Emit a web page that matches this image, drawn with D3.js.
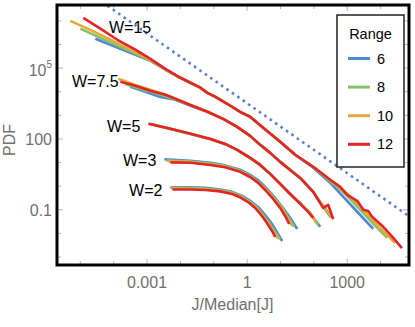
<!DOCTYPE html>
<html>
<head>
<meta charset="utf-8">
<script src="https://cdn.jsdelivr.net/npm/d3@7"></script>
<style>
  body { margin: 0; background: #fff; }
  svg { display: block; }
  text { font-family: "Liberation Sans", Arial, sans-serif; }
</style>
</head>
<body>
<div class="chart"></div>
<script>
// all curve points are [log10(J/Median[J]), log10(PDF)]
var ranges = ['6', '8', '10', '12'];
var wLabels = ['W=15', 'W=7.5', 'W=5', 'W=3', 'W=2'];
// where each W label sits, same log10 units
var wLabelAt = [[-4.14, 6.49], [-5.25, 4.20], [-4.20, 2.31], [-3.72, 0.835], [-3.54, -0.435]];

// each family: [range 6, range 8, range 10, range 12]
var w15 = [
  [[-4.55, 6.24], [-4.10, 5.99], [-3.50, 5.65], [-2.90, 5.31], [-2.45, 4.93], [-2.00, 4.59], [-1.70, 4.38], [-1.40, 4.17], [-1.19, 3.95], [-0.95, 3.78], [-0.60, 3.49], [-0.21, 3.15], [0.09, 2.94], [0.48, 2.47], [0.99, 1.88], [1.44, 1.33], [1.98, 0.78], [2.49, 0.14], [2.94, -0.54], [3.39, -1.22], [3.78, -1.81]],
  [[-5.00, 6.67], [-4.40, 6.28], [-3.80, 5.90], [-3.20, 5.52], [-2.75, 5.22], [-2.45, 4.94], [-2.00, 4.59], [-1.70, 4.38], [-1.40, 4.16], [-1.19, 3.95], [-0.95, 3.78], [-0.60, 3.49], [-0.21, 3.15], [0.09, 2.93], [0.48, 2.47], [0.99, 1.88], [1.44, 1.33], [1.98, 0.81], [2.49, 0.22], [2.94, -0.33], [3.39, -1.00], [3.84, -1.68], [4.20, -2.19]],
  [[-5.30, 7.00], [-4.70, 6.62], [-4.10, 6.20], [-3.50, 5.78], [-2.90, 5.35], [-2.45, 4.95], [-2.00, 4.59], [-1.70, 4.38], [-1.40, 4.17], [-1.19, 3.95], [-0.95, 3.78], [-0.60, 3.49], [-0.21, 3.15], [0.09, 2.94], [0.48, 2.47], [0.99, 1.88], [1.44, 1.33], [1.98, 0.82], [2.49, 0.27], [2.94, -0.24], [3.39, -0.83], [3.84, -1.55], [4.43, -2.40]],
  [[-4.91, 7.13], [-4.40, 6.67], [-3.89, 6.20], [-3.35, 5.78], [-2.90, 5.39], [-2.45, 4.97], [-2.00, 4.59], [-1.70, 4.38], [-1.40, 4.17], [-1.19, 3.95], [-0.95, 3.78], [-0.60, 3.49], [-0.21, 3.15], [0.09, 2.94], [0.48, 2.47], [0.99, 1.88], [1.44, 1.33], [1.98, 0.82], [2.49, 0.27], [2.79, -0.03], [3.00, -0.37], [3.30, -0.62], [3.48, -1.00], [3.63, -1.05], [3.75, -1.30], [4.08, -1.72], [4.38, -2.19], [4.64, -2.62]]
];

var w75 = [
  [[-3.50, 4.21], [-3.05, 4.00], [-2.60, 3.78], [-2.15, 3.66], [-1.70, 3.40], [-1.19, 3.15], [-0.72, 2.85], [-0.30, 2.51], [0.09, 2.13], [0.39, 1.75], [0.69, 1.41], [0.99, 1.03], [1.29, 0.69], [1.59, 0.35], [1.98, -0.24], [2.13, -0.58], [2.31, -0.92], [2.52, -1.34]],
  [[-3.65, 4.33], [-3.20, 4.12], [-2.75, 3.95], [-2.30, 3.74], [-1.70, 3.44], [-1.19, 3.15], [-0.72, 2.85], [-0.30, 2.51], [0.09, 2.13], [0.39, 1.75], [0.69, 1.41], [0.99, 1.03], [1.29, 0.69], [1.59, 0.35], [1.98, -0.24], [2.16, -0.62], [2.37, -1.00], [2.55, -1.34]],
  [[-3.86, 4.55], [-3.35, 4.29], [-2.90, 4.08], [-2.45, 3.87], [-1.70, 3.44], [-1.19, 3.15], [-0.72, 2.85], [-0.30, 2.51], [0.09, 2.13], [0.39, 1.75], [0.69, 1.41], [0.99, 1.03], [1.29, 0.69], [1.59, 0.35], [1.98, -0.24], [2.19, -0.67], [2.40, -1.05], [2.58, -1.39]],
  [[-3.80, 4.42], [-3.35, 4.25], [-2.90, 4.04], [-2.45, 3.87], [-2.15, 3.70], [-1.70, 3.44], [-1.19, 3.15], [-0.72, 2.85], [-0.30, 2.51], [0.09, 2.13], [0.39, 1.75], [0.69, 1.41], [0.99, 1.03], [1.29, 0.69], [1.59, 0.35], [1.98, -0.24], [2.13, -0.58], [2.28, -0.92], [2.43, -0.79], [2.58, -1.39]]
];

var w5 = [
  [[-2.87, 2.62], [-2.30, 2.43], [-1.70, 2.22], [-1.10, 2.00], [-0.66, 1.79], [-0.30, 1.54], [0.09, 1.20], [0.39, 0.90], [0.69, 0.52], [0.99, 0.10], [1.29, -0.33], [1.59, -0.71], [1.89, -1.17], [2.04, -1.43], [2.19, -1.72]],
  [[-2.90, 2.64], [-2.30, 2.42], [-1.70, 2.21], [-1.10, 1.99], [-0.66, 1.78], [-0.30, 1.54], [0.09, 1.20], [0.39, 0.90], [0.69, 0.52], [0.99, 0.10], [1.29, -0.33], [1.59, -0.73], [1.89, -1.13], [2.13, -1.64]],
  [[-2.93, 2.64], [-2.30, 2.43], [-1.70, 2.22], [-1.10, 2.00], [-0.66, 1.79], [-0.30, 1.54], [0.09, 1.20], [0.39, 0.90], [0.69, 0.52], [0.99, 0.10], [1.29, -0.33], [1.59, -0.74], [1.89, -1.13], [2.07, -1.55]],
  [[-2.96, 2.64], [-2.30, 2.43], [-1.70, 2.22], [-1.10, 2.00], [-0.66, 1.79], [-0.30, 1.54], [0.09, 1.20], [0.39, 0.90], [0.69, 0.52], [0.99, 0.10], [1.29, -0.33], [1.59, -0.75], [1.83, -1.09], [1.98, -1.34]]
];

var w3 = [
  [[-2.48, 1.14], [-1.70, 1.07], [-1.10, 0.99], [-0.66, 0.88], [-0.21, 0.70], [0.09, 0.48], [0.33, 0.25], [0.57, -0.07], [0.81, -0.45], [1.05, -0.88], [1.29, -1.34], [1.50, -1.81]],
  [[-2.42, 1.09], [-1.70, 1.04], [-1.10, 0.96], [-0.66, 0.85], [-0.21, 0.65], [0.09, 0.44], [0.33, 0.18], [0.57, -0.12], [0.81, -0.50], [1.05, -0.92], [1.26, -1.39], [1.41, -1.72]],
  [[-2.36, 1.05], [-1.70, 1.02], [-1.10, 0.93], [-0.66, 0.82], [-0.21, 0.63], [0.09, 0.41], [0.33, 0.16], [0.57, -0.14], [0.81, -0.54], [1.05, -0.97], [1.23, -1.39], [1.35, -1.68]],
  [[-2.30, 1.01], [-1.70, 0.99], [-1.10, 0.90], [-0.66, 0.80], [-0.21, 0.61], [0.09, 0.39], [0.33, 0.14], [0.54, -0.16], [0.78, -0.54], [0.99, -0.92], [1.14, -1.26], [1.26, -1.60]]
];

var w2 = [
  [[-2.30, -0.05], [-1.70, -0.05], [-1.25, -0.07], [-0.81, -0.14], [-0.45, -0.24], [-0.15, -0.41], [0.09, -0.62], [0.33, -0.88], [0.54, -1.22], [0.72, -1.55], [0.87, -1.89], [0.96, -2.11], [1.05, -2.32]],
  [[-2.27, -0.07], [-1.70, -0.08], [-1.25, -0.10], [-0.81, -0.17], [-0.45, -0.27], [-0.18, -0.43], [0.06, -0.64], [0.30, -0.90], [0.48, -1.22], [0.66, -1.55], [0.81, -1.89], [0.90, -2.08], [0.99, -2.25]],
  [[-2.27, -0.10], [-1.70, -0.11], [-1.25, -0.13], [-0.81, -0.19], [-0.45, -0.30], [-0.21, -0.45], [0.03, -0.65], [0.27, -0.91], [0.45, -1.22], [0.63, -1.53], [0.75, -1.85], [0.84, -2.04], [0.93, -2.21]],
  [[-2.24, -0.14], [-1.70, -0.14], [-1.25, -0.16], [-0.81, -0.22], [-0.45, -0.33], [-0.21, -0.47], [0.03, -0.67], [0.24, -0.92], [0.42, -1.22], [0.57, -1.51], [0.69, -1.77], [0.78, -1.98], [0.84, -2.15]]
];

// dotted power-law guide, two end points
var guide = [[-5.0, 8.44], [5.0, -1.42]];

var xTickValues = [1e-3, 1, 1e3];
var xTickText = ['0.001', '1', '1000'];
var yTickValues = [1e-1, 1e2, 1e5];

var colors = ['#4f88d2', '#88c068', '#e3aa3a', '#e02626'];

var margin = { top: 5, right: 6, bottom: 62, left: 57 };
var width = 415 - margin.left - margin.right;
var height = 327 - margin.top - margin.bottom;
var gray = '#707070';

var svg = d3.select('.chart')
  .append('svg')
  .attr('width', 415)
  .attr('height', 327);

var g = svg.append('g')
  .attr('transform', `translate(${margin.left}, ${margin.top})`);

var x = d3.scaleLog().domain([2.0e-6, 7.1e4]).range([0, width]);
var y = d3.scaleLog().domain([4.6e-4, 4.7e7]).range([height, 0]);

g.append('clipPath')
  .attr('id', 'plotclip')
  .append('rect')
  .attr('width', width)
  .attr('height', height);

var line = d3.line()
  .x(d => x(Math.pow(10, d[0])))
  .y(d => y(Math.pow(10, d[1])));

// ticks every decade, pointing inward, on all four sides
var xDecades = d3.range(-5, 5).map(e => Math.pow(10, e));
var yDecades = d3.range(-3, 8).map(e => Math.pow(10, e));
var ticks = g.append('g').style('stroke', '#b4b4b4').style('stroke-width', 1);

xDecades.forEach(v => {
  var len = xTickValues.some(t => Math.abs(Math.log10(t) - Math.log10(v)) < 1e-6) ? 6 : 4;
  ticks.append('line').attr('x1', x(v)).attr('x2', x(v)).attr('y1', height).attr('y2', height - len);
  ticks.append('line').attr('x1', x(v)).attr('x2', x(v)).attr('y1', 0).attr('y2', len);
});
yDecades.forEach(v => {
  var len = yTickValues.some(t => Math.abs(Math.log10(t) - Math.log10(v)) < 1e-6) ? 6 : 4;
  ticks.append('line').attr('y1', y(v)).attr('y2', y(v)).attr('x1', 0).attr('x2', len);
  ticks.append('line').attr('y1', y(v)).attr('y2', y(v)).attr('x1', width).attr('x2', width - len);
});

var plot = g.append('g').attr('clip-path', 'url(#plotclip)');

// dotted guide line
plot.append('path')
  .attr('d', line(guide))
  .style('fill', 'none')
  .style('stroke', '#5b80c4')
  .style('stroke-width', 2.6)
  .style('stroke-dasharray', '2.6,4');

// curves, range 6 first so that red ends on top
var families = [w15, w75, w5, w3, w2];
ranges.forEach((r, i) => {
  plot.selectAll('.curve' + r)
    .data(families.map(f => f[i]))
    .enter()
    .append('path')
    .attr('class', 'curve' + r)
    .attr('d', d => line(d))
    .style('fill', 'none')
    .style('stroke', colors[i])
    .style('stroke-width', 2.6)
    .style('stroke-linejoin', 'round');
});

// W labels
g.selectAll('.wlabel')
  .data(wLabels)
  .enter()
  .append('text')
  .attr('class', 'wlabel')
  .attr('x', (d, i) => x(Math.pow(10, wLabelAt[i][0])))
  .attr('y', (d, i) => y(Math.pow(10, wLabelAt[i][1])))
  .style('font-size', '16px')
  .style('fill', '#000')
  .text(d => d);

// frame
g.append('rect')
  .attr('width', width)
  .attr('height', height)
  .style('fill', 'none')
  .style('stroke', '#000')
  .style('stroke-width', 3);

// x tick labels
g.selectAll('.xlab')
  .data(xTickValues)
  .enter()
  .append('text')
  .attr('class', 'xlab')
  .attr('x', d => x(d))
  .attr('y', height + 23)
  .style('text-anchor', 'middle')
  .style('font-size', '16px')
  .style('fill', gray)
  .text((d, i) => xTickText[i]);

// y tick labels: 0.1, 100, 10^5
g.append('text')
  .attr('x', -5).attr('y', y(1e-1) + 6.5)
  .style('text-anchor', 'end').style('font-size', '16px').style('fill', gray)
  .text('0.1');
g.append('text')
  .attr('x', -5).attr('y', y(1e2) + 6.5)
  .style('text-anchor', 'end').style('font-size', '16px').style('fill', gray)
  .text('100');
var pow = g.append('text')
  .attr('x', -5).attr('y', y(1e5) + 7.5)
  .style('text-anchor', 'end').style('font-size', '16px').style('fill', gray);
pow.append('tspan').text('10');
pow.append('tspan').attr('dy', -7.5).style('font-size', '10px').text('5');

// axis titles
svg.append('text')
  .attr('x', 232.5).attr('y', 310)
  .style('text-anchor', 'middle').style('font-size', '16px').style('fill', gray)
  .text('J/Median[J]');
svg.append('text')
  .attr('transform', 'translate(15, 140) rotate(-90)')
  .style('text-anchor', 'middle').style('font-size', '16px').style('fill', gray)
  .text('PDF');

drawLegend(svg, 337, 15, 67, 152);

function drawLegend(svg, lx, ly, lw, lh) {
  var leg = svg.append('g').attr('transform', `translate(${lx}, ${ly})`);
  leg.append('rect')
    .attr('width', lw)
    .attr('height', lh)
    .style('fill', '#fff')
    .style('stroke', '#222')
    .style('stroke-width', 1.5);
  leg.append('text')
    .attr('x', lw / 2).attr('y', 24)
    .style('text-anchor', 'middle').style('font-size', '14.5px').style('fill', '#000')
    .text('Range');
  ranges.forEach((r, i) => {
    var yy = 43.5 + i * 28.6;
    leg.append('line')
      .attr('x1', 11).attr('x2', 33)
      .attr('y1', yy).attr('y2', yy)
      .style('stroke', colors[i])
      .style('stroke-width', 3);
    leg.append('text')
      .attr('x', 40).attr('y', yy + 5)
      .style('font-size', '14.5px').style('fill', '#000')
      .text(r);
  });
}
</script>
</body>
</html>
